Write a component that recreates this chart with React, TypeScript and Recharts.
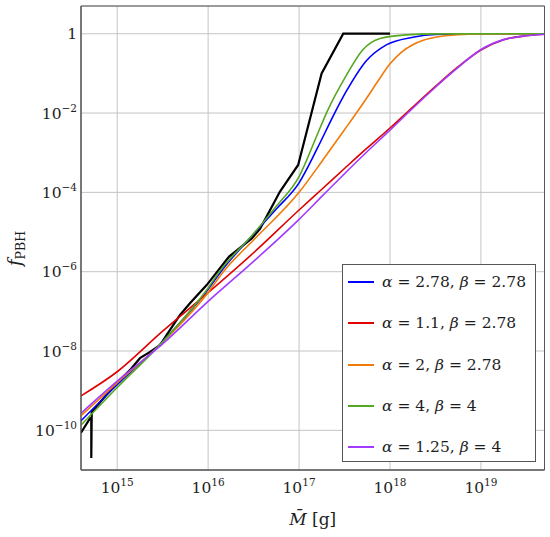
import React from "react";
import { LineChart, Line, XAxis, YAxis, CartesianGrid, ReferenceArea } from "recharts";

const FONT = "'DejaVu Serif', serif";

// x: mass M [g], y: f_PBH
const blackMass = [4.0e14, 5.02e14, 5.19e14, 5.19e14, 5.25e14, 5.46e14, 9.06e14, 1.38e15, 1.78e15, 2.3e15, 2.96e15, 3.81e15, 4.91e15, 6.31e15, 9.64e15, 1.7e16, 3.02e16, 3.72e16, 6.17e16, 9.77e16, 1.77e17, 3.06e17, 1e18];
const blackF = [8.7e-11, 2.0e-10, 2.0e-10, 2.0e-11, 2.9e-10, 3.2e-10, 1.26e-9, 3.3e-9, 6.6e-9, 9.5e-9, 1.4e-8, 3.4e-8, 8.1e-8, 1.6e-7, 4.6e-7, 2.4e-6, 6.9e-6, 1.2e-5, 1.05e-4, 4.9e-4, 0.1, 1, 1];

const blueMass = [4e14, 1e15, 3.16e15, 1e16, 1.38e16, 3.16e16, 5.62e16, 1e17, 1.58e17, 2.4e17, 3.31e17, 5.5e17, 9.12e17, 1.78e18, 3.16e18, 1e19, 5e19];
const blueF = [1.74e-10, 1.41e-9, 1.74e-8, 3.6e-7, 1e-6, 8.9e-6, 3.8e-5, 1.74e-4, 1.26e-3, 8.9e-3, 3.55e-2, 0.209, 0.525, 0.813, 0.955, 0.995, 1.0];

const redMass = [4e14, 1e15, 3.16e15, 1e16, 3.16e16, 1e17, 1.78e17, 3.16e17, 5.62e17, 1e18, 1.78e18, 3.16e18, 5.62e18, 1e19, 1.78e19, 3.16e19, 5e19];
const redF = [7.4e-10, 3.0e-9, 3.16e-8, 2.95e-7, 3.0e-6, 3.6e-5, 1.2e-4, 4.0e-4, 1.32e-3, 4.2e-3, 1.41e-2, 4.7e-2, 0.148, 0.39, 0.71, 0.89, 0.966];

const orangeMass = [4e14, 1e15, 3.16e15, 1e16, 1.47e16, 3.16e16, 1e17, 1.78e17, 3.16e17, 4.27e17, 5.62e17, 7.5e17, 1e18, 1.33e18, 1.78e18, 2.37e18, 3.16e18, 5.62e18, 1e19, 5e19];
const orangeF = [2.34e-10, 1.58e-9, 1.66e-8, 3.0e-7, 1e-6, 6.3e-6, 1e-4, 6.0e-4, 3.8e-3, 1.0e-2, 2.5e-2, 6.8e-2, 0.174, 0.339, 0.525, 0.692, 0.813, 0.944, 0.985, 1.0];

const greenMass = [4e14, 1e15, 3.16e15, 1e16, 1.33e16, 3.16e16, 5.62e16, 1e17, 1.58e17, 2.0e17, 3.31e17, 5.0e17, 7.76e17, 1.5e18, 3.16e18, 5e19];
const greenF = [1.35e-10, 1.2e-9, 1.7e-8, 3.9e-7, 1e-6, 9.1e-6, 4.47e-5, 2.5e-4, 2.8e-3, 1e-2, 8.9e-2, 0.389, 0.759, 0.933, 0.989, 1.0];

const purpleMass = [4e14, 1e15, 3.16e15, 1e16, 3.16e16, 1e17, 1.78e17, 3.16e17, 5.62e17, 1e18, 1.78e18, 3.16e18, 5.62e18, 1e19, 1.78e19, 3.16e19, 5e19];
const purpleF = [2.7e-10, 1.74e-9, 1.51e-8, 1.78e-7, 1.82e-6, 2.09e-5, 7.9e-5, 2.95e-4, 1.07e-3, 3.7e-3, 1.32e-2, 4.47e-2, 0.141, 0.4, 0.71, 0.89, 0.973];

const xTickValues = [1e15, 1e16, 1e17, 1e18, 1e19];
const xTickExponents = ["15", "16", "17", "18", "19"];
const yTickValues = [1e-10, 1e-8, 1e-6, 1e-4, 1e-2, 1];
const yTickExponents = ["\u221210", "\u22128", "\u22126", "\u22124", "\u22122", ""];

const legendAlpha = ["2.78", "1.1", "2", "4", "1.25"];
const legendBeta = ["2.78", "2.78", "2.78", "4", "4"];

const COLORS = {
  black: "#000000",
  blue: "#0000ff",
  red: "#e00000",
  orange: "#f07a0a",
  green: "#55a822",
  purple: "#a13bff",
};
const legendColors = [COLORS.blue, COLORS.red, COLORS.orange, COLORS.green, COLORS.purple];

const toData = (xs: number[], ys: number[]) => xs.map((x, i) => ({ x, y: ys[i] }));

const blackData = toData(blackMass, blackF);
const blueData = toData(blueMass, blueF);
const redData = toData(redMass, redF);
const orangeData = toData(orangeMass, orangeF);
const greenData = toData(greenMass, greenF);
const purpleData = toData(purpleMass, purpleF);

const TEXT = "#1e1e1e";

const XTick = (props: any) => {
  const { x, payload } = props;
  const i = xTickValues.indexOf(payload.value);
  return (
    <text x={x} y={493} textAnchor="middle" fontFamily={FONT} fontSize={15.5} fill={TEXT}>
      <tspan>10</tspan>
      <tspan dy={-7} fontSize={10.5}>{xTickExponents[i]}</tspan>
    </text>
  );
};

const YTick = (props: any) => {
  const { y, payload } = props;
  const i = yTickValues.indexOf(payload.value);
  const e = yTickExponents[i];
  if (!e) {
    return (
      <text x={77} y={y + 5.5} textAnchor="end" fontFamily={FONT} fontSize={15.5} fill={TEXT}>1</text>
    );
  }
  return (
    <text x={77} y={y + 5.5} textAnchor="end" fontFamily={FONT} fontSize={15.5} fill={TEXT}>
      <tspan>10</tspan>
      <tspan dy={-7} fontSize={10.5}>{e}</tspan>
    </text>
  );
};

export default function App() {
  return (
    <div style={{ position: "absolute", left: 0, top: 0, width: 550, height: 537, background: "#fff" }}>
      <LineChart width={550} height={537} margin={{ top: 6, right: 5.5, left: 0, bottom: 0 }}>
        <CartesianGrid stroke="#c4c4c4" strokeWidth={1} />
        <XAxis
          dataKey="x"
          type="number"
          scale="log"
          domain={[4e14, 5e19]}
          allowDataOverflow
          ticks={xTickValues}
          tick={<XTick />}
          tickLine={false}
          axisLine={{ stroke: "#555", strokeWidth: 1 }}
          height={67}
          interval={0}
        />
        <YAxis
          dataKey="y"
          type="number"
          scale="log"
          domain={[1e-11, 5]}
          allowDataOverflow
          ticks={yTickValues}
          tick={<YTick />}
          tickLine={false}
          axisLine={{ stroke: "#555", strokeWidth: 1 }}
          width={81}
          interval={0}
        />
        <ReferenceArea x1={4e14} x2={5e19} y1={1e-11} y2={5} fill="none" stroke="#555" strokeWidth={1} ifOverflow="visible" />
        <Line data={blackData} dataKey="y" stroke={COLORS.black} strokeWidth={2.2} dot={false} isAnimationActive={false} />
        <Line data={blueData} dataKey="y" type="monotone" stroke={COLORS.blue} strokeWidth={1.6} dot={false} isAnimationActive={false} />
        <Line data={redData} dataKey="y" type="monotone" stroke={COLORS.red} strokeWidth={1.6} dot={false} isAnimationActive={false} />
        <Line data={orangeData} dataKey="y" type="monotone" stroke={COLORS.orange} strokeWidth={1.6} dot={false} isAnimationActive={false} />
        <Line data={greenData} dataKey="y" type="monotone" stroke={COLORS.green} strokeWidth={1.6} dot={false} isAnimationActive={false} />
        <Line data={purpleData} dataKey="y" type="monotone" stroke={COLORS.purple} strokeWidth={1.6} dot={false} isAnimationActive={false} />
      </LineChart>

      <svg width={550} height={537} style={{ position: "absolute", left: 0, top: 0, pointerEvents: "none" }}>
        <text x={312.75} y={525} textAnchor="middle" fontFamily={FONT} fontSize={17} fill={TEXT}>
          <tspan fontStyle="italic">{"M\u0304"}</tspan>
          <tspan> [g]</tspan>
        </text>
        <text transform="rotate(-90)" x={-248.5} y={21} textAnchor="middle" fontFamily={FONT} fontSize={18} fill={TEXT}>
          <tspan fontStyle="italic">f</tspan>
          <tspan fontSize={12.5} dy={4}>PBH</tspan>
        </text>
      </svg>

      <div
        style={{
          position: "absolute",
          left: 342,
          top: 264,
          width: 194,
          height: 198,
          boxSizing: "border-box",
          border: "1px solid #555",
          background: "#fff",
          fontFamily: FONT,
          fontSize: 15.5,
          color: TEXT,
        }}
      >
        {legendAlpha.map((a, i) => (
          <div key={i} style={{ position: "absolute", left: 0, top: 17 + i * 41.25 - 12, height: 24, width: "100%" }}>
            <div style={{ position: "absolute", left: 5, top: 11, width: 26, height: 2, background: legendColors[i] }} />
            <div style={{ position: "absolute", left: 39, top: 0, lineHeight: "24px", whiteSpace: "nowrap" }}>
              <i>α</i> = {a}, <i>β</i> = {legendBeta[i]}
            </div>
          </div>
        ))}
      </div>
    </div>
  );
}
